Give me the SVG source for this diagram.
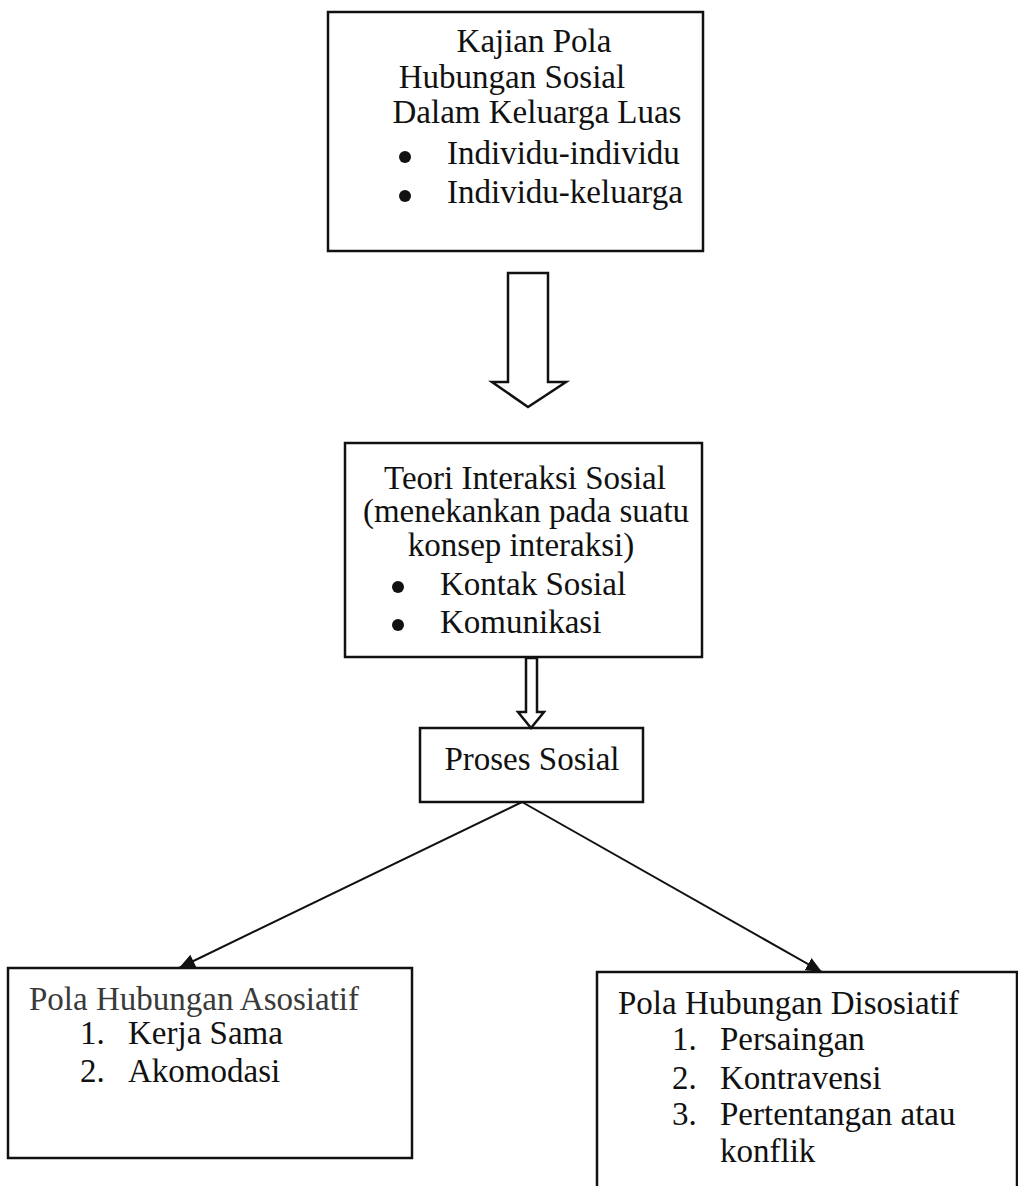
<svg xmlns="http://www.w3.org/2000/svg" width="1018" height="1186" viewBox="0 0 1018 1186">
<style>
.box{fill:#fff;stroke:#111;stroke-width:2.5}
.t{font-family:"Liberation Serif","Times New Roman",serif;font-size:33px;fill:#111}
.c{text-anchor:middle}
.blk{fill:#111}
.arr{fill:#fff;stroke:#111;stroke-width:2.5;stroke-linejoin:miter}
.ln{stroke:#111;stroke-width:2;fill:none}
</style>
<defs>
<marker id="ah2" viewBox="0 0 16 14" refX="16" refY="7" markerWidth="16" markerHeight="14" markerUnits="userSpaceOnUse" orient="auto">
<path d="M0,0 L16,7 L0,14 Z" fill="#111"/>
</marker>
</defs>
<rect width="1018" height="1186" fill="#fff"/>
<g id="kajian">
<rect class="box" x="328" y="12" width="375" height="239"/>
<text class="t c" x="534" y="52">Kajian Pola</text>
<text class="t c" x="512" y="88">Hubungan Sosial</text>
<text class="t c" x="537" y="123">Dalam Keluarga Luas</text>
<circle class="blk" cx="405" cy="157" r="6"/>
<text class="t" x="447" y="164">Individu-individu</text>
<circle class="blk" cx="405" cy="196" r="6"/>
<text class="t" x="447" y="203">Individu-keluarga</text>
</g>
<g id="teori">
<rect class="box" x="345" y="443" width="357" height="214"/>
<text class="t c" x="525" y="489">Teori Interaksi Sosial</text>
<text class="t c" x="526" y="522">(menekankan pada suatu</text>
<text class="t c" x="521" y="556">konsep interaksi)</text>
<circle class="blk" cx="398" cy="587" r="6"/>
<text class="t" x="440" y="595">Kontak Sosial</text>
<circle class="blk" cx="398" cy="625" r="6"/>
<text class="t" x="440" y="633">Komunikasi</text>
</g>
<g id="proses">
<rect class="box" x="420" y="728" width="223" height="74"/>
<text class="t c" x="532" y="770">Proses Sosial</text>
</g>
<g id="asosiatif">
<rect class="box" x="8" y="968" width="404" height="190"/>
<text class="t" x="29" y="1010" style="fill:#3a3a3a">Pola Hubungan Asosiatif</text>
<text class="t" x="80" y="1044">1.</text>
<text class="t" x="128" y="1044">Kerja Sama</text>
<text class="t" x="80" y="1082">2.</text>
<text class="t" x="128" y="1082">Akomodasi</text>
</g>
<g id="disosiatif">
<rect class="box" x="597" y="972" width="420" height="225"/>
<text class="t" x="618" y="1014">Pola Hubungan Disosiatif</text>
<text class="t" x="672" y="1050">1.</text>
<text class="t" x="720" y="1050">Persaingan</text>
<text class="t" x="672" y="1089">2.</text>
<text class="t" x="720" y="1089">Kontravensi</text>
<text class="t" x="672" y="1125">3.</text>
<text class="t" x="720" y="1125">Pertentangan atau</text>
<text class="t" x="720" y="1162">konflik</text>
</g>
<g id="connectors">
<polygon class="arr" points="508,273 548,273 548,382 566,382 528,407 492,382 508,382"/>
<polygon class="arr" points="526,658 537,658 537,712 544,712 531,728 518,712 526,712"/>
<line class="ln" x1="522" y1="802" x2="179" y2="968" marker-end="url(#ah2)"/>
<line class="ln" x1="522" y1="802" x2="822" y2="972" marker-end="url(#ah2)"/>
</g>
</svg>
